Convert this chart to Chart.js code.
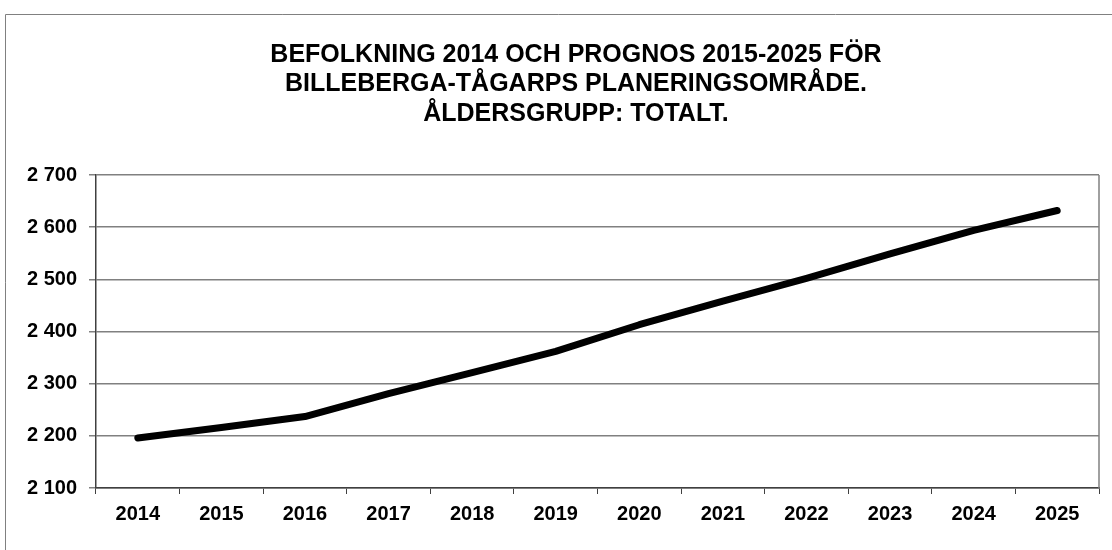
<!DOCTYPE html>
<html>
<head>
<meta charset="utf-8">
<script src="https://cdn.jsdelivr.net/npm/chart.js@4"></script>
<style>
  html, body { margin: 0; padding: 0; background: #fff; }
  #wrap { width: 1112px; height: 550px; }
</style>
</head>
<body>
<div id="wrap"><canvas id="chart" width="1112" height="550"></canvas></div>
<script>
// years and population
const years = ["2014","2015","2016","2017","2018","2019","2020","2021","2022","2023","2024","2025"];
const population = [2196, 2216, 2237, 2281, 2321, 2362, 2413, 2458, 2502, 2549, 2594, 2632];
const titleLines = [
  "BEFOLKNING 2014 OCH PROGNOS 2015-2025 FÖR",
  "BILLEBERGA-TÅGARPS PLANERINGSOMRÅDE.",
  "ÅLDERSGRUPP: TOTALT."
];
const yMin = 2100, yMax = 2700, yStep = 100;

const FONT = '"Liberation Sans", Arial, sans-serif';

// outer frame, title block, right edge of the plot area
const framePlugin = {
  id: 'frame',
  beforeDraw(chart) {
    const c = chart.ctx;
    c.save();
    c.strokeStyle = '#808080';
    c.lineWidth = 1;
    c.beginPath();
    c.moveTo(5.5, 550);
    c.lineTo(5.5, 14.5);
    c.lineTo(1112, 14.5);
    c.stroke();

    // title, centred on the outer frame rather than the canvas
    c.fillStyle = '#000';
    c.font = 'bold 25px ' + FONT;
    c.textAlign = 'center';
    c.textBaseline = 'alphabetic';
    titleLines.forEach((t, i) => c.fillText(t, 576, 61.7 + i * 29.7));
    c.restore();
  },
  beforeDatasetsDraw(chart) {
    const a = chart.chartArea;
    const c = chart.ctx;
    c.save();
    c.strokeStyle = '#808080';
    c.lineWidth = 1.5;
    c.beginPath();
    c.moveTo(a.right, a.top);
    c.lineTo(a.right, a.bottom);
    c.stroke();
    c.restore();
  }
};

const ctx = document.getElementById('chart').getContext('2d');
const chart = new Chart(ctx, {
  type: 'line',
  data: {
    labels: years,
    datasets: [{
      data: population,
      borderColor: '#000',
      borderWidth: 7,
      borderCapStyle: 'round',
      borderJoinStyle: 'round',
      pointRadius: 0,
      tension: 0,
      fill: false
    }]
  },
  options: {
    responsive: false,
    animation: false,
    devicePixelRatio: 1,
    layout: { padding: { left: 0, right: 13, top: 175, bottom: 22 } },
    plugins: {
      legend: { display: false },
      tooltip: { enabled: false },
      title: { display: false }
    },
    scales: {
      x: {
        offset: true,
        grid: {
          offset: true,
          drawOnChartArea: false,
          drawTicks: true,
          tickLength: 6,
          color: '#404040'
        },
        border: { color: '#404040', width: 1.5 },
        ticks: {
          color: '#000',
          padding: 8,
          maxRotation: 0,
          autoSkip: false,
          font: { family: FONT, size: 20, weight: 'bold' }
        },
        afterFit(scale) { scale.height = 40; }
      },
      y: {
        min: yMin,
        max: yMax,
        grid: {
          color: '#808080',
          lineWidth: 1.5,
          tickLength: 7
        },
        border: { color: '#404040', width: 1.5 },
        ticks: {
          stepSize: yStep,
          color: '#000',
          padding: 12,
          font: { family: FONT, size: 20, weight: 'bold' },
          callback: v => String(v).replace(/\B(?=(\d{3})+(?!\d))/g, ' ')
        },
        afterFit(scale) { scale.width = 96; }
      }
    }
  },
  plugins: [framePlugin]
});
</script>
</body>
</html>
